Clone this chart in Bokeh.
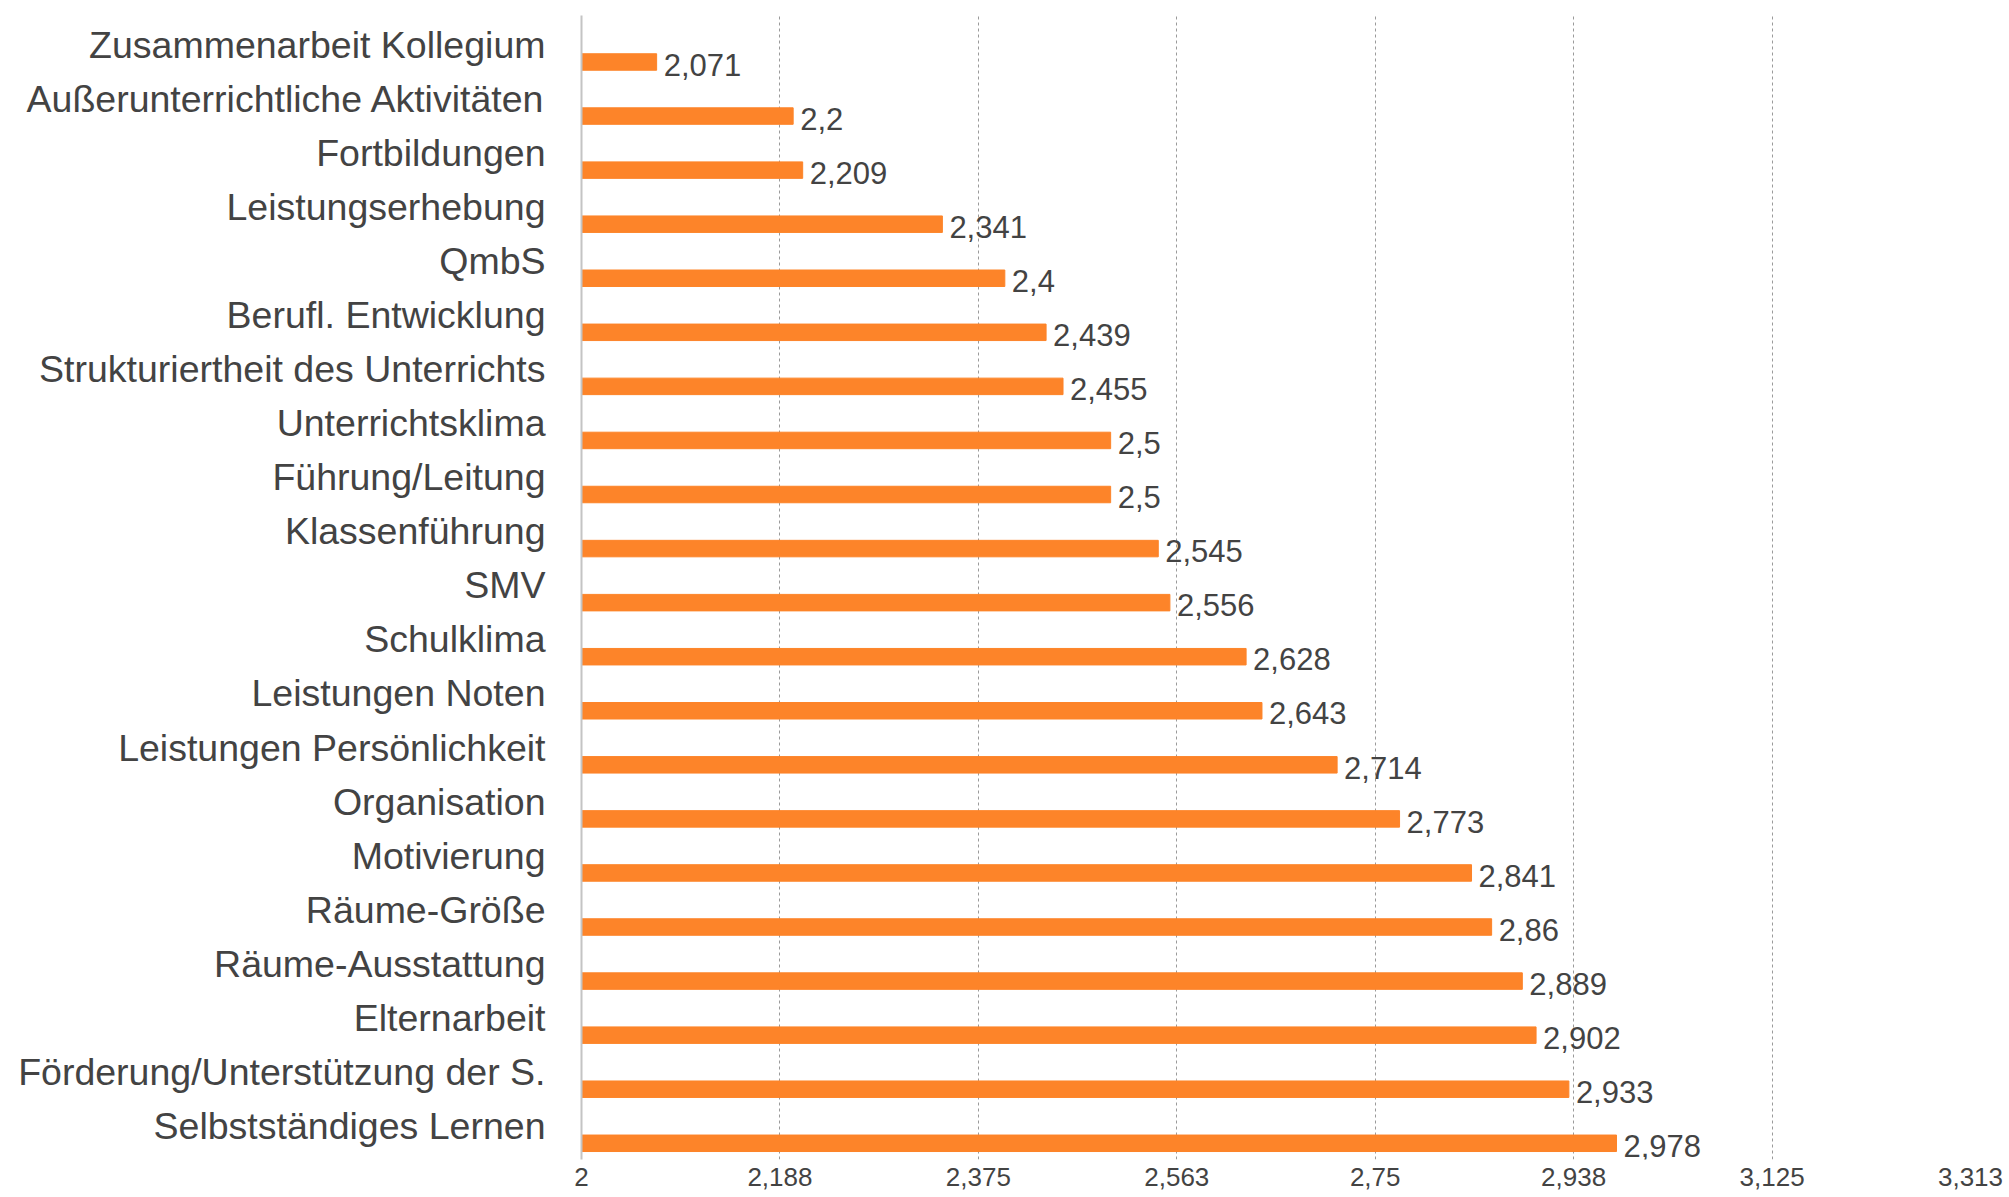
from bokeh.plotting import figure
from bokeh.models import ColumnDataSource, Range1d, FixedTicker
from bokeh.transform import dodge
from bokeh.core.properties import value
from bokeh.embed import file_html
from bokeh.resources import INLINE

categories = [
    "Zusammenarbeit Kollegium",
    "Außerunterrichtliche Aktivitäten",
    "Fortbildungen",
    "Leistungserhebung",
    "QmbS",
    "Berufl. Entwicklung",
    "Strukturiertheit des Unterrichts",
    "Unterrichtsklima",
    "Führung/Leitung",
    "Klassenführung",
    "SMV",
    "Schulklima",
    "Leistungen Noten",
    "Leistungen Persönlichkeit",
    "Organisation",
    "Motivierung",
    "Räume-Größe",
    "Räume-Ausstattung",
    "Elternarbeit",
    "Förderung/Unterstützung der S.",
    "Selbstständiges Lernen",
]
values = [2.071, 2.2, 2.209, 2.341, 2.4, 2.439, 2.455, 2.5, 2.5, 2.545, 2.556,
          2.628, 2.643, 2.714, 2.773, 2.841, 2.86, 2.889, 2.902, 2.933, 2.978]
tick_values = [2, 2.1875, 2.375, 2.5625, 2.75, 2.9375, 3.125, 3.3125]
tick_labels = ["2", "2,188", "2,375", "2,563", "2,75", "2,938", "3,125", "3,313"]
value_labels = [str(v).replace(".", ",") for v in values]

n = len(categories)
positions = [float(n - 1 - i) for i in range(n)]  # first category on top

FONT = "Liberation Sans"
TEXT = "#434343"
BAR = "#FD8429"

src = ColumnDataSource(dict(cat=categories, pos=positions, val=values,
                            lab=value_labels, base=[2] * n))

p = figure(width=2009, height=1197, output_backend="svg", toolbar_location=None,
           x_range=(2, 3.3125), y_range=Range1d(-0.62, n - 1 + 0.54),
           min_border_left=581, min_border_right=39, min_border_top=15,
           min_border_bottom=38)
p.outline_line_color = None
p.background_fill_color = "white"
p.border_fill_color = "white"

p.hbar(y=dodge("pos", -0.32), left="base", right="val",
       height=0.305, color=BAR, source=src)
p.text(x="val", y=dodge("pos", -0.37), text="lab", source=src,
       x_offset=7, text_baseline="middle", text_align="left",
       text_font=value(FONT), text_font_size="31px", text_color=TEXT)

p.xaxis.ticker = FixedTicker(ticks=tick_values)
p.xaxis.major_label_overrides = {t: l for t, l in zip(tick_values, tick_labels)}
p.xaxis.axis_line_color = None
p.xaxis.major_tick_line_color = None
p.xaxis.major_tick_out = 0
p.xaxis.major_tick_in = 0
p.xaxis.minor_tick_line_color = None
p.xaxis.major_label_text_font = FONT
p.xaxis.major_label_text_font_size = "26px"
p.xaxis.major_label_text_color = TEXT
p.xaxis.major_label_standoff = 8

p.yaxis.ticker = FixedTicker(ticks=positions)
p.yaxis.major_label_overrides = {pos: c for pos, c in zip(positions, categories)}
p.yaxis.axis_line_color = "#c4c4c4"
p.yaxis.axis_line_width = 2
p.yaxis.major_tick_line_color = None
p.yaxis.major_tick_out = 0
p.yaxis.major_tick_in = 0
p.yaxis.minor_tick_line_color = None
p.yaxis.major_label_text_font = FONT
p.yaxis.major_label_text_font_size = "37.5px"
p.yaxis.major_label_text_color = TEXT
p.yaxis.major_label_standoff = 36

p.ygrid.grid_line_color = None
p.xgrid.grid_line_color = "#9a9a9a"
p.xgrid.grid_line_dash = "3 3"
p.xgrid.grid_line_width = 1

open("out.html", "w").write(file_html(p, INLINE))
